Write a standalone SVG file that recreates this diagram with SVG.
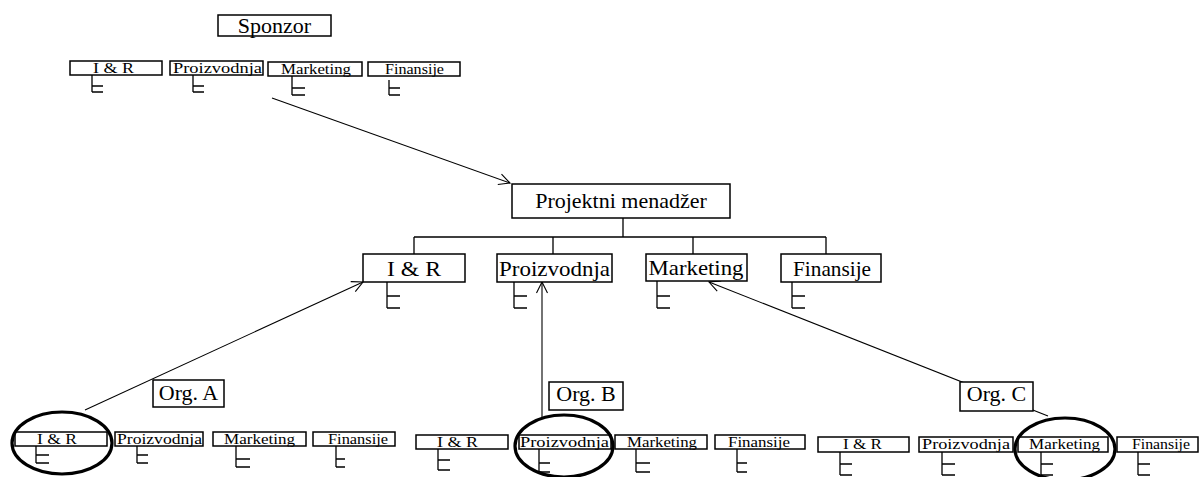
<svg xmlns="http://www.w3.org/2000/svg" width="1200" height="477" viewBox="0 0 1200 477">
  <style>
    .box { fill: #ffffff; stroke: #000000; stroke-width: 1.5; }
    .mark { fill: none; stroke: #000000; stroke-width: 1.3; }
    .wire { fill: none; stroke: #000000; stroke-width: 1.3; }
    .arrow { fill: none; stroke: #000000; stroke-width: 1.1; marker-end: url(#open-head); }
    .ring { fill: none; stroke: #000000; stroke-width: 3.2; }
    text { font-family: "Liberation Serif", "Times New Roman", serif; fill: #000000; text-anchor: middle; }
    .big { font-size: 22px; }
    .small { font-size: 15px; }
  </style>
  <defs>
    <marker id="open-head" markerUnits="userSpaceOnUse" markerWidth="14" markerHeight="14" refX="12" refY="7" orient="auto" overflow="visible">
      <path d="M1,1.5 L12,7 L1,12.5" fill="none" stroke="#000000" stroke-width="1.1"/>
    </marker>
  </defs>

  <rect width="1200" height="477" fill="#ffffff"/>

  <!-- connectors -->
  <g id="connectors">
    <!-- reporting lines from the project manager -->
    <path class="wire" d="M623,218 V237 M414,237 H826 M414,237 V254 M553,237 V254 M693,237 V254 M826,237 V254"/>
    <!-- arrows -->
    <line class="arrow" x1="272" y1="98" x2="510" y2="183"/>
    <line class="arrow" x1="85" y1="410" x2="363" y2="282"/>
    <line class="arrow" x1="542" y1="418" x2="542" y2="282"/>
    <line class="arrow" x1="1048" y1="416" x2="709" y2="282"/>
  </g>

  <!-- sponsor organisation -->
  <g id="sponzor">
    <rect class="box" x="218" y="15" width="113" height="21"/>
    <text class="big" x="274.5" y="33">Sponzor</text>
  </g>
  <g id="sp-ir">
    <rect class="box" x="70" y="61" width="92" height="14"/>
    <text class="small" x="113.5" y="73" textLength="41" lengthAdjust="spacingAndGlyphs">I &amp; R</text>
    <path class="mark" d="M92,75 V92 M92,86 H103 M92,92 H103"/>
  </g>
  <g id="sp-pr">
    <rect class="box" x="170" y="61" width="93" height="14"/>
    <text class="small" x="217.5" y="73" textLength="89" lengthAdjust="spacingAndGlyphs">Proizvodnja</text>
    <path class="mark" d="M193,75 V92 M193,86 H204 M193,92 H204"/>
  </g>
  <g id="sp-mk">
    <rect class="box" x="268" y="62" width="94" height="14"/>
    <text class="small" x="316" y="74" textLength="70" lengthAdjust="spacingAndGlyphs">Marketing</text>
    <path class="mark" d="M292,76 V95 M292,88 H305 M292,95 H305"/>
  </g>
  <g id="sp-fi">
    <rect class="box" x="368" y="62" width="92" height="14"/>
    <text class="small" x="414.5" y="74" textLength="59" lengthAdjust="spacingAndGlyphs">Finansije</text>
    <path class="mark" d="M389,80 V95 M389,88 H400 M389,95 H400"/>
  </g>

  <!-- project organisation -->
  <g id="pm">
    <rect class="box" x="512" y="184" width="218" height="34"/>
    <text class="big" x="621" y="208">Projektni menadžer</text>
  </g>
  <g id="pm-ir">
    <rect class="box" x="363" y="254" width="102" height="28"/>
    <text class="big" x="414" y="276" textLength="54" lengthAdjust="spacingAndGlyphs">I &amp; R</text>
    <path class="mark" d="M387,282 V308 M387,296 H400 M387,308 H400"/>
  </g>
  <g id="pm-pr">
    <rect class="box" x="497" y="254" width="115" height="28"/>
    <text class="big" x="554.5" y="276" textLength="111" lengthAdjust="spacingAndGlyphs">Proizvodnja</text>
    <path class="mark" d="M514,282 V308 M514,296 H527 M514,308 H527"/>
  </g>
  <g id="pm-mk">
    <rect class="box" x="646" y="254" width="101" height="27"/>
    <text class="big" x="696" y="275" textLength="95" lengthAdjust="spacingAndGlyphs">Marketing</text>
    <path class="mark" d="M657,281 V308 M657,296 H670 M657,308 H670"/>
  </g>
  <g id="pm-fi">
    <rect class="box" x="781" y="254" width="100" height="28"/>
    <text class="big" x="832" y="276" textLength="78" lengthAdjust="spacingAndGlyphs">Finansije</text>
    <path class="mark" d="M792,282 V308 M792,296 H805 M792,308 H805"/>
  </g>

  <!-- organisation A -->
  <g id="org-a">
    <rect class="box" x="153" y="380" width="71" height="27"/>
    <text class="big" x="188.5" y="400">Org. A</text>
  </g>
  <g id="a-ir">
    <rect class="box" x="15" y="432" width="92" height="14"/>
    <text class="small" x="57" y="444" textLength="40" lengthAdjust="spacingAndGlyphs">I &amp; R</text>
    <path class="mark" d="M36,446 V463 M36,455 H49 M36,463 H49"/>
  </g>
  <g id="a-pr">
    <rect class="box" x="115" y="432" width="88" height="14"/>
    <text class="small" x="159.5" y="444" textLength="85" lengthAdjust="spacingAndGlyphs">Proizvodnja</text>
    <path class="mark" d="M137,446 V463 M137,455 H148 M137,463 H148"/>
  </g>
  <g id="a-mk">
    <rect class="box" x="213" y="432" width="93" height="14"/>
    <text class="small" x="259.5" y="444" textLength="71" lengthAdjust="spacingAndGlyphs">Marketing</text>
    <path class="mark" d="M236,446 V467 M236,459 H250 M236,467 H250"/>
  </g>
  <g id="a-fi">
    <rect class="box" x="313" y="432" width="82" height="14"/>
    <text class="small" x="358" y="444" textLength="60" lengthAdjust="spacingAndGlyphs">Finansije</text>
    <path class="mark" d="M336,446 V467 M336,459 H345 M336,467 H345"/>
  </g>

  <!-- organisation B -->
  <g id="org-b">
    <rect class="box" x="549" y="382" width="74" height="28"/>
    <text class="big" x="586" y="401">Org. B</text>
  </g>
  <g id="b-ir">
    <rect class="box" x="416" y="435" width="92" height="14"/>
    <text class="small" x="457.5" y="447" textLength="41" lengthAdjust="spacingAndGlyphs">I &amp; R</text>
    <path class="mark" d="M438,449 V470 M438,460 H450 M438,470 H450"/>
  </g>
  <g id="b-pr">
    <rect class="box" x="519" y="435" width="92" height="14"/>
    <text class="small" x="564.5" y="447" textLength="89" lengthAdjust="spacingAndGlyphs">Proizvodnja</text>
    <path class="mark" d="M539,449 V472 M539,463 H550 M539,472 H550"/>
  </g>
  <g id="b-mk">
    <rect class="box" x="615" y="435" width="92" height="14"/>
    <text class="small" x="662" y="447" textLength="70" lengthAdjust="spacingAndGlyphs">Marketing</text>
    <path class="mark" d="M636,449 V472 M636,463 H650 M636,472 H650"/>
  </g>
  <g id="b-fi">
    <rect class="box" x="715" y="435" width="90" height="14"/>
    <text class="small" x="759" y="447" textLength="62" lengthAdjust="spacingAndGlyphs">Finansije</text>
    <path class="mark" d="M737,449 V472 M737,463 H747 M737,472 H747"/>
  </g>

  <!-- organisation C -->
  <g id="org-c">
    <rect class="box" x="960" y="382" width="73" height="29"/>
    <text class="big" x="996.5" y="401">Org. C</text>
  </g>
  <g id="c-ir">
    <rect class="box" x="818" y="437" width="91" height="15"/>
    <text class="small" x="862.5" y="449" textLength="39" lengthAdjust="spacingAndGlyphs">I &amp; R</text>
    <path class="mark" d="M840,452 V475 M840,464 H852 M840,475 H852"/>
  </g>
  <g id="c-pr">
    <rect class="box" x="919" y="437" width="94" height="15"/>
    <text class="small" x="966" y="449" textLength="88" lengthAdjust="spacingAndGlyphs">Proizvodnja</text>
    <path class="mark" d="M942,452 V475 M942,464 H955 M942,475 H955"/>
  </g>
  <g id="c-mk">
    <rect class="box" x="1018" y="437" width="90" height="15"/>
    <text class="small" x="1064.5" y="449" textLength="71" lengthAdjust="spacingAndGlyphs">Marketing</text>
    <path class="mark" d="M1041,452 V475 M1041,464 H1053 M1041,475 H1053"/>
  </g>
  <g id="c-fi">
    <rect class="box" x="1117" y="437" width="81" height="15"/>
    <text class="small" x="1161" y="449" textLength="58" lengthAdjust="spacingAndGlyphs">Finansije</text>
    <path class="mark" d="M1138,452 V475 M1138,464 H1150 M1138,475 H1150"/>
  </g>

  <!-- highlighted functions -->
  <g id="highlights">
    <ellipse class="ring" cx="62" cy="443" rx="50" ry="31"/>
    <ellipse class="ring" cx="564" cy="446" rx="49" ry="31"/>
    <ellipse class="ring" cx="1065" cy="449" rx="50" ry="31"/>
  </g>
</svg>
